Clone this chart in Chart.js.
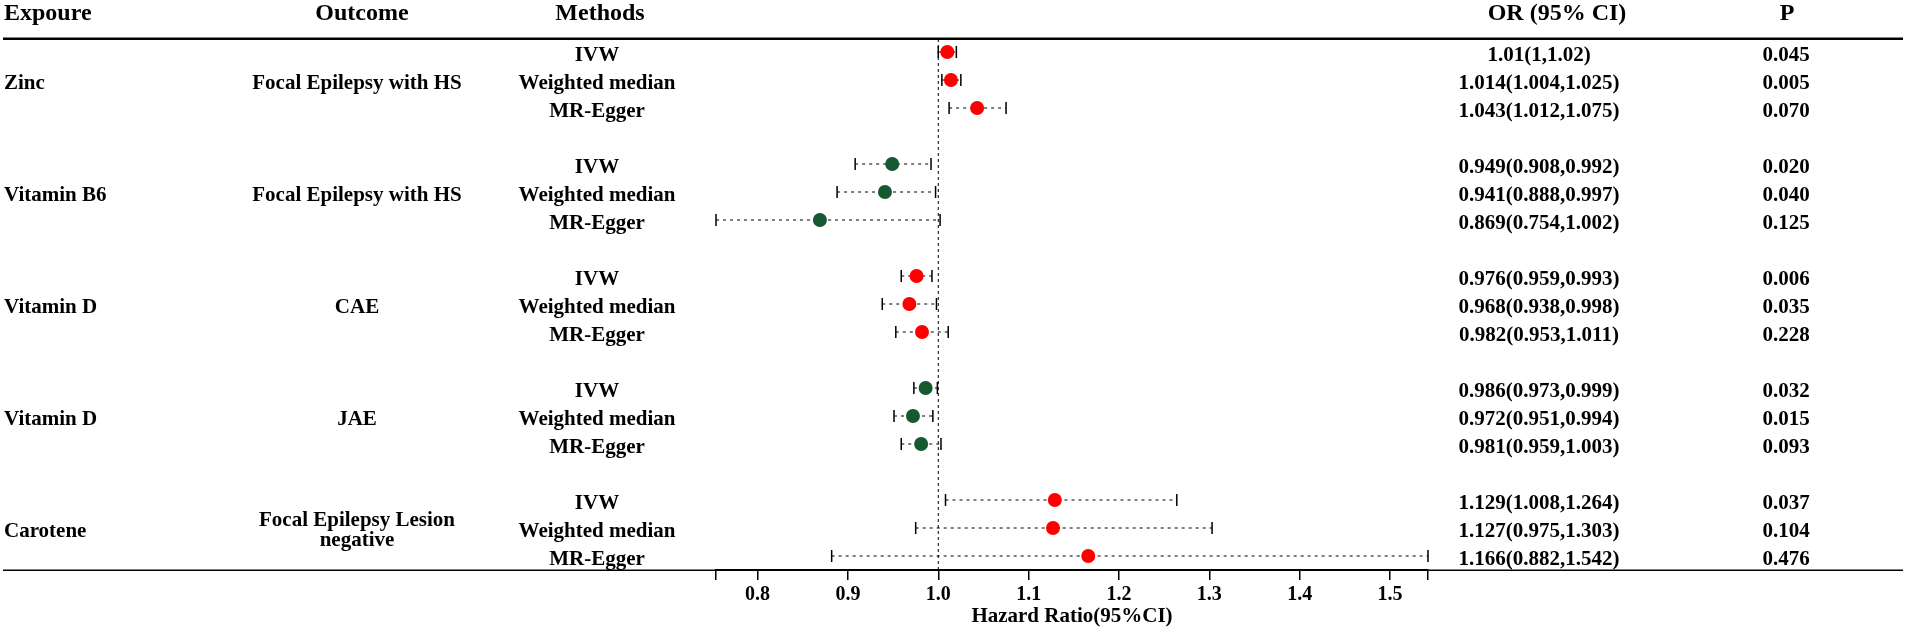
<!DOCTYPE html>
<html>
<head>
<meta charset="utf-8">
<script src="https://cdn.jsdelivr.net/npm/chart.js@4/dist/chart.umd.min.js"></script>
<style>
  html, body { margin: 0; padding: 0; background: #fff; }
  #forest { display: block; }
</style>
</head>
<body>
<canvas id="forest" width="1907" height="632"></canvas>
<script>
    // table data
    const exposures = ['Zinc', 'Vitamin B6', 'Vitamin D', 'Vitamin D', 'Carotene'];
    const outcomes = [
      ['Focal Epilepsy with HS'],
      ['Focal Epilepsy with HS'],
      ['CAE'],
      ['JAE'],
      ['Focal Epilepsy Lesion', 'negative']
    ];
    const methods = ['IVW', 'Weighted median', 'MR-Egger'];

    // one value per row (5 groups x 3 methods)
    const orValues = [1.01, 1.014, 1.043, 0.949, 0.941, 0.869, 0.976, 0.968, 0.982, 0.986, 0.972, 0.981, 1.129, 1.127, 1.166];
    const lowerCI  = [1, 1.004, 1.012, 0.908, 0.888, 0.754, 0.959, 0.938, 0.953, 0.973, 0.951, 0.959, 1.008, 0.975, 0.882];
    const upperCI  = [1.02, 1.025, 1.075, 0.992, 0.997, 1.002, 0.993, 0.998, 1.011, 0.999, 0.994, 1.003, 1.264, 1.303, 1.542];
    const pValues  = ['0.045', '0.005', '0.070', '0.020', '0.040', '0.125', '0.006', '0.035', '0.228', '0.032', '0.015', '0.093', '0.037', '0.104', '0.476'];

    const xTickLabels = [0.8, 0.9, 1.0, 1.1, 1.2, 1.3, 1.4, 1.5];
    const groupColors = ['#ff0000', '#14592f', '#ff0000', '#14592f', '#ff0000'];

    const FONT = '"Liberation Serif", "Times New Roman", serif';
    const xMin = Math.min(...lowerCI);
    const xMax = Math.max(...upperCI);

    // row position: 4 slots per group, 3 used
    const rowPos = orValues.map((v, i) => Math.floor(i / 3) * 4 + (i % 3));
    const points = orValues.map((v, i) => ({ x: v, y: rowPos[i] }));
    const pointColors = orValues.map((v, i) => groupColors[Math.floor(i / 3)]);

    const forestTable = {
      id: 'forestTable',
      beforeDatasetsDraw(chart) {
        const {ctx, chartArea: {top, bottom}, scales: {x, y}} = chart;
        ctx.save();

        // reference line at 1
        ctx.strokeStyle = '#000';
        ctx.lineWidth = 1;
        ctx.setLineDash([3, 3]);
        ctx.beginPath();
        ctx.moveTo(x.getPixelForValue(1), top);
        ctx.lineTo(x.getPixelForValue(1), bottom);
        ctx.stroke();

        // confidence intervals
        orValues.forEach((v, i) => {
          const py = y.getPixelForValue(rowPos[i]);
          const x1 = x.getPixelForValue(lowerCI[i]);
          const x2 = x.getPixelForValue(upperCI[i]);
          ctx.setLineDash([3, 4]);
          ctx.lineWidth = 1;
          ctx.beginPath();
          ctx.moveTo(x1, py);
          ctx.lineTo(x2, py);
          ctx.stroke();
          ctx.setLineDash([]);
          ctx.lineWidth = 1.5;
          ctx.beginPath();
          ctx.moveTo(x1, py - 6);
          ctx.lineTo(x1, py + 6);
          ctx.moveTo(x2, py - 6);
          ctx.lineTo(x2, py + 6);
          ctx.stroke();
        });
        ctx.restore();
      },
      afterDraw(chart) {
        const {ctx, chartArea: {top, bottom}, scales: {y}} = chart;
        ctx.save();

        // rules
        ctx.fillStyle = '#000';
        ctx.fillRect(3, top - 1.5, 1900, 2.5);
        ctx.fillRect(3, bottom - 0.5, 1900, 1.5);

        ctx.textBaseline = 'middle';

        // header
        ctx.font = 'bold 24px ' + FONT;
        ctx.textAlign = 'left';
        ctx.fillText('Expoure', 4, 14);
        ctx.textAlign = 'center';
        ctx.fillText('Outcome', 362, 14);
        ctx.fillText('Methods', 600, 14);
        ctx.fillText('OR (95% CI)', 1557, 14);
        ctx.fillText('P', 1787, 14);

        // body
        ctx.font = 'bold 21px ' + FONT;
        orValues.forEach((v, i) => {
          const ty = y.getPixelForValue(rowPos[i]) + 4;
          ctx.textAlign = 'center';
          ctx.fillText(methods[i % 3], 597, ty);
          ctx.fillText(v + '(' + lowerCI[i] + ',' + upperCI[i] + ')', 1539, ty);
          ctx.fillText(pValues[i], 1786, ty);
        });

        exposures.forEach((name, g) => {
          const ty = y.getPixelForValue(g * 4 + 1) + 4;
          ctx.textAlign = 'left';
          ctx.fillText(name, 4, ty);
          ctx.textAlign = 'center';
          const lines = outcomes[g];
          lines.forEach((line, k) => {
            ctx.fillText(line, 357, ty + (k - (lines.length - 1) / 2) * 20 - (lines.length > 1 ? 1 : 0));
          });
        });
        ctx.restore();
      }
    };

    const config = {
      type: 'scatter',
      data: {
        datasets: [{
          label: 'OR',
          data: points,
          pointBackgroundColor: pointColors,
          pointBorderWidth: 0,
          pointRadius: 7,
          pointHoverRadius: 7,
          clip: false
        }]
      },
      options: {
        responsive: false,
        animation: false,
        devicePixelRatio: 1,
        layout: {
          padding: { left: 716, right: 479, top: 39, bottom: 0 }
        },
        plugins: {
          legend: { display: false },
          tooltip: { enabled: false }
        },
        scales: {
          x: {
            type: 'linear',
            position: 'bottom',
            min: xMin,
            max: xMax,
            afterBuildTicks(axis) {
              axis.ticks = [xMin, ...xTickLabels, xMax].map(v => ({ value: v }));
            },
            afterFit(axis) {
              axis.height = 62;
            },
            ticks: {
              autoSkip: false,
              maxRotation: 0,
              padding: 3,
              color: '#000',
              font: { family: FONT, size: 20, weight: 'bold' },
              callback: (value) => xTickLabels.includes(value) ? value.toFixed(1) : ''
            },
            grid: {
              drawOnChartArea: false,
              drawTicks: true,
              tickLength: 10,
              color: '#000',
              lineWidth: 1.5
            },
            border: { display: true, color: '#000', width: 1.5 },
            title: {
              display: true,
              text: 'Hazard Ratio(95%CI)',
              color: '#000',
              font: { family: FONT, size: 21, weight: 'bold' },
              padding: { top: 0, bottom: 3 }
            }
          },
          y: {
            type: 'linear',
            display: false,
            reverse: true,
            min: -0.4643,
            max: 18.5
          }
        }
      },
      plugins: [forestTable]
    };

    const forestChart = new Chart(
      document.getElementById('forest'),
      config
    );
</script>
</body>
</html>
